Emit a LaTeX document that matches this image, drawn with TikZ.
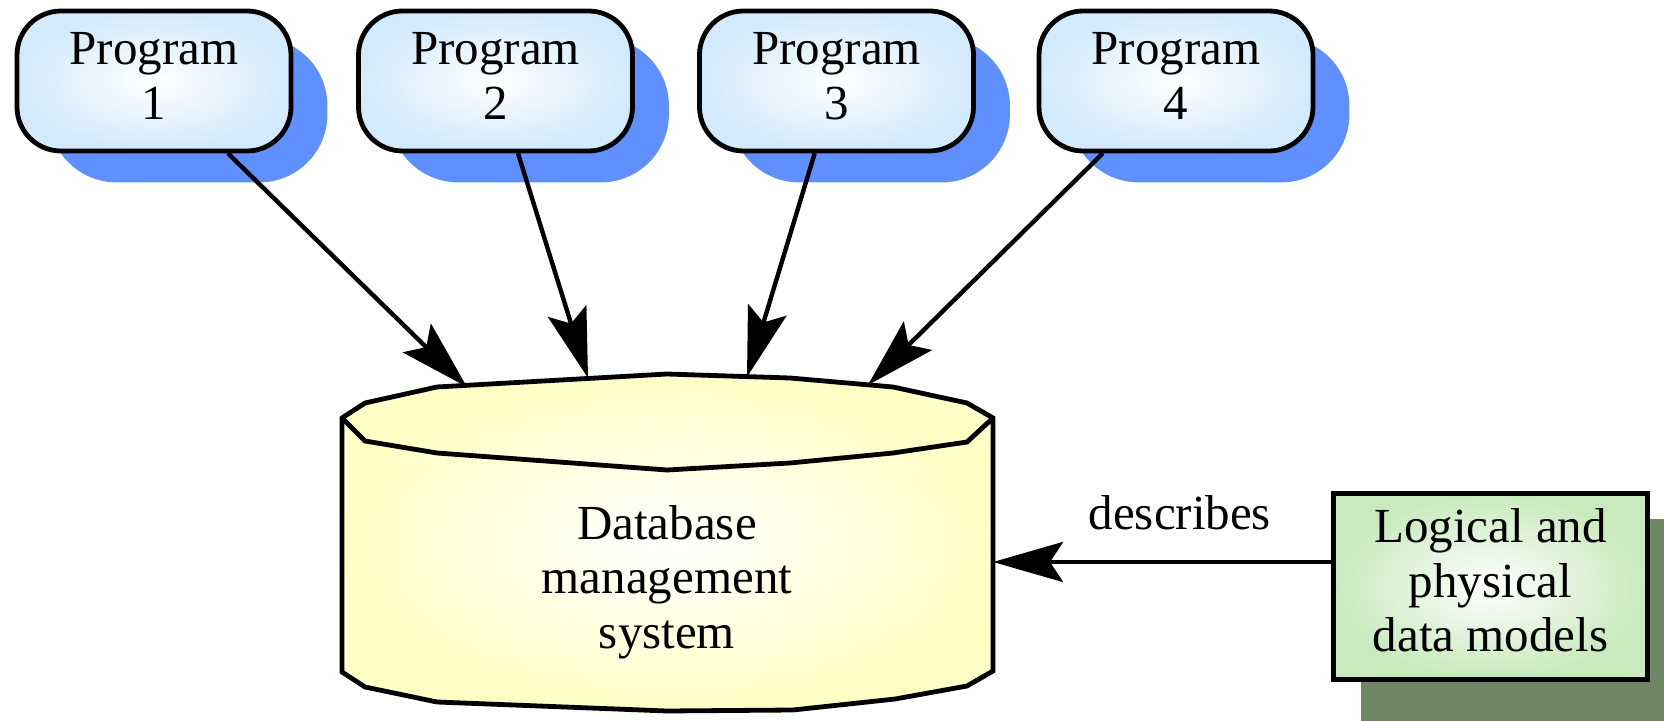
\documentclass[tikz,border=0pt]{standalone}
\usepackage{fontspec}
\setmainfont{Liberation Serif}
\usetikzlibrary{arrows.meta,backgrounds}

\definecolor{progedge}{HTML}{D2EAFC}
\definecolor{progshadow}{HTML}{6090FF}
\definecolor{dbedge}{HTML}{FFFFC6}
\definecolor{modeledge}{HTML}{C8EABD}
\definecolor{modelshadow}{HTML}{6F8765}

\tikzset{
  lbl/.style={font=\fontsize{24.5pt}{27.25pt}\selectfont, align=center},
  prog/.style={lbl, draw, line width=2.4pt, rectangle, rounded corners=22pt,
    minimum width=137pt, minimum height=70pt, inner sep=0pt,
    inner color=white, outer color=progedge},
  progdrop/.style={fill=progshadow, rounded corners=34pt},
  model/.style={lbl, draw, line width=2.6pt, rectangle,
    minimum width=157pt, minimum height=93pt, inner sep=0pt,
    inner color=white, outer color=modeledge},
  dbline/.style={line width=2.4pt},
  link/.style={line width=2.2pt, -{Stealth[length=35pt,width=20pt,inset=6.5pt]}},
}

\begin{document}
\begin{tikzpicture}[x=0.5pt, y=-0.5pt]
\useasboundingbox (0,0) rectangle (1664,721);
\clip (0,0) rectangle (1664,721);

% application programs
\node[prog] (p1) at (154,81)    {\strut Program\\\strut 1};
\node[prog] (p2) at (495.5,81)  {\strut Program\\\strut 2};
\node[prog] (p3) at (836.5,81)  {\strut Program\\\strut 3};
\node[prog] (p4) at (1176,81)   {\strut Program\\\strut 4};

% data models box
\node[model] (lm) at (1490.5,586.5) {\strut Logical and\\\strut physical\\\strut data models};

% drop shadows
\begin{scope}[on background layer]
  \foreach \p in {p1,p2,p3,p4}
    \fill[progdrop] ([shift={(34,29)}]\p.south west) rectangle ([shift={(34,29)}]\p.north east);
  \fill[modelshadow] ([shift={(30,28)}]lm.north west) rectangle (1700,760);
\end{scope}

% database cylinder
\shade[inner color=white, outer color=dbedge]
  (342,418) -- (365,403) -- (437,387) -- (667,374) -- (790,378) -- (893,387)
  -- (967,403) -- (993,418) -- (993,671) -- (967,686) -- (895,699) -- (793,710)
  -- (667,711) -- (437,702) -- (365,687) -- (342,672) -- cycle;
\draw[dbline]
  (342,418) -- (365,403) -- (437,387) -- (667,374) -- (790,378) -- (893,387)
  -- (967,403) -- (993,418) -- (993,671) -- (967,686) -- (895,699) -- (793,710)
  -- (667,711) -- (437,702) -- (365,687) -- (342,672) -- cycle;
\draw[dbline]
  (342,418) -- (365,441) -- (437,453) -- (667,470) -- (790,463) -- (893,453)
  -- (967,442) -- (993,418);
\node[lbl] (dbms) at (667,583) {\strut Database\\\strut management\\\strut system};

% arrow targets on the cylinder
\coordinate (t1) at (467,387);
\coordinate (t2) at (588,378);
\coordinate (t3) at (747,377);
\coordinate (t4) at (868,385);
\coordinate (t5) at (993,562);

% connectors
\draw[link] (p1) -- (t1);
\draw[link] (p2) -- (t2);
\draw[link] (p3) -- (t3);
\draw[link] (p4) -- (t4);
\draw[link] (lm.west |- t5) -- node[lbl, pos=0.447, anchor=base, yshift=16.5pt, inner sep=0pt] {describes} (t5);
\end{tikzpicture}
\end{document}
